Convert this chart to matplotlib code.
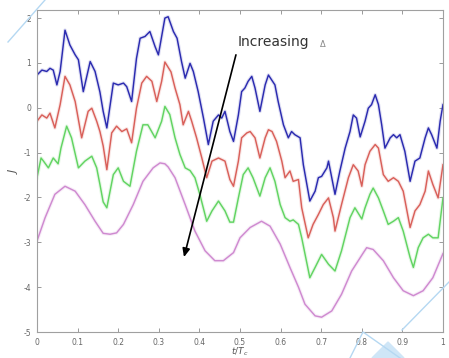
import matplotlib
matplotlib.use("Agg")
import matplotlib.pyplot as plt
from matplotlib.lines import Line2D
from matplotlib.patches import Polygon

# Normalised time samples and J values for each delta level
x_blue = [0.000, 0.012, 0.024, 0.032, 0.040, 0.049, 0.057, 0.069, 0.081, 0.094,
          0.102, 0.114, 0.131, 0.143, 0.155, 0.163, 0.172, 0.188, 0.200, 0.213,
          0.221, 0.233, 0.245, 0.254, 0.266, 0.278, 0.291, 0.299, 0.307, 0.315,
          0.323, 0.336, 0.345, 0.356, 0.365, 0.377, 0.385, 0.397, 0.410, 0.422,
          0.434, 0.447, 0.455, 0.463, 0.475, 0.484, 0.496, 0.504, 0.512, 0.520,
          0.529, 0.537, 0.549, 0.562, 0.570, 0.578, 0.586, 0.594, 0.607, 0.619,
          0.627, 0.635, 0.648, 0.656, 0.672, 0.685, 0.693, 0.701, 0.714, 0.718,
          0.726, 0.734, 0.746, 0.759, 0.771, 0.779, 0.787, 0.796, 0.808, 0.816,
          0.824, 0.833, 0.841, 0.849, 0.857, 0.870, 0.878, 0.886, 0.894, 0.906,
          0.919, 0.931, 0.943, 0.956, 0.964, 0.972, 0.985, 0.993, 1.000]
y_blue = [0.73, 0.84, 0.81, 0.88, 0.84, 0.51, 0.81, 1.73, 1.40, 1.18,
          1.07, 0.36, 1.03, 0.81, 0.35, -0.08, -0.45, 0.55, 0.51, 0.55,
          0.47, 0.14, 1.10, 1.55, 1.59, 1.70, 1.36, 1.18, 1.59, 2.00,
          2.03, 1.70, 1.55, 1.03, 0.66, 0.99, 0.81, 0.36, -0.23, -0.82,
          -0.30, -0.16, -0.23, -0.08, -0.53, -0.75, -0.16, 0.36, 0.44, 0.59,
          0.70, 0.44, -0.08, 0.51, 0.73, 0.62, 0.51, 0.14, -0.38, -0.67,
          -0.53, -0.60, -0.67, -1.27, -2.08, -1.86, -1.56, -1.53, -1.34, -1.19,
          -1.56, -1.93, -1.41, -0.90, -0.53, -0.16, -0.23, -0.65, -0.30, -0.01,
          0.07, 0.29, 0.07, -0.38, -0.90, -0.67, -0.60, -0.67, -0.60, -0.97,
          -1.64, -1.19, -1.12, -0.67, -0.45, -0.60, -0.90, -0.30, 0.07]

x_red = [0.000, 0.012, 0.024, 0.032, 0.044, 0.057, 0.069, 0.081, 0.094, 0.110,
         0.126, 0.135, 0.147, 0.155, 0.163, 0.172, 0.184, 0.196, 0.209, 0.221,
         0.233, 0.245, 0.258, 0.270, 0.283, 0.295, 0.307, 0.315, 0.330, 0.340,
         0.352, 0.360, 0.373, 0.381, 0.393, 0.406, 0.418, 0.431, 0.447, 0.463,
         0.475, 0.484, 0.496, 0.504, 0.517, 0.525, 0.537, 0.549, 0.562, 0.570,
         0.579, 0.590, 0.603, 0.611, 0.623, 0.631, 0.644, 0.652, 0.668, 0.680,
         0.693, 0.705, 0.718, 0.730, 0.734, 0.750, 0.767, 0.779, 0.791, 0.800,
         0.808, 0.820, 0.833, 0.841, 0.853, 0.865, 0.878, 0.890, 0.902, 0.919,
         0.931, 0.943, 0.956, 0.964, 0.975, 0.988, 1.000]
y_red = [-0.30, -0.16, -0.23, -0.12, -0.45, 0.07, 0.70, 0.51, 0.14, -0.67,
         -0.08, -0.01, -0.30, -0.53, -0.85, -1.38, -0.56, -0.41, -0.53, -0.47,
         -0.78, -0.01, 0.55, 0.70, 0.59, 0.14, 0.59, 1.02, 0.80, 0.44,
         0.07, -0.38, -0.08, -0.30, -0.67, -1.12, -1.56, -1.19, -1.12, -1.19,
         -1.60, -1.75, -1.19, -0.67, -0.56, -0.53, -0.67, -1.12, -0.67, -0.49,
         -0.53, -0.75, -1.19, -1.56, -1.41, -1.64, -1.60, -2.23, -2.90, -2.60,
         -2.38, -2.16, -2.01, -2.45, -2.75, -2.16, -1.56, -1.27, -1.41, -1.75,
         -1.27, -0.97, -0.82, -0.90, -1.49, -1.64, -1.56, -1.64, -1.86, -2.67,
         -2.30, -2.16, -1.86, -1.41, -1.71, -2.01, -1.27]

x_green = [0.000, 0.010, 0.016, 0.028, 0.040, 0.052, 0.059, 0.073, 0.085, 0.102,
           0.118, 0.135, 0.147, 0.155, 0.163, 0.172, 0.188, 0.200, 0.213, 0.229,
           0.245, 0.261, 0.273, 0.291, 0.307, 0.315, 0.327, 0.340, 0.352, 0.365,
           0.377, 0.389, 0.401, 0.418, 0.431, 0.447, 0.463, 0.475, 0.484, 0.496,
           0.508, 0.520, 0.532, 0.549, 0.562, 0.574, 0.586, 0.599, 0.611, 0.623,
           0.631, 0.644, 0.652, 0.672, 0.685, 0.701, 0.718, 0.734, 0.750, 0.771,
           0.783, 0.800, 0.808, 0.820, 0.828, 0.841, 0.853, 0.865, 0.878, 0.890,
           0.902, 0.919, 0.927, 0.939, 0.951, 0.964, 0.975, 0.988, 1.000]
y_green = [-1.56, -1.12, -1.19, -1.34, -1.12, -1.25, -0.90, -0.41, -0.67, -1.34,
           -1.19, -1.08, -1.34, -1.71, -2.10, -2.23, -1.49, -1.34, -1.64, -1.75,
           -0.97, -0.38, -0.38, -0.67, -0.30, 0.03, -0.15, -0.67, -1.04, -1.34,
           -1.40, -1.56, -1.93, -2.53, -2.30, -2.08, -2.30, -2.55, -2.55, -2.01,
           -1.49, -1.34, -1.56, -1.97, -1.56, -1.34, -1.64, -2.16, -2.45, -2.53,
           -2.50, -2.60, -2.90, -3.79, -3.56, -3.27, -3.49, -3.64, -3.19, -2.45,
           -2.23, -2.48, -2.23, -1.93, -1.79, -2.01, -2.30, -2.60, -2.53, -2.45,
           -2.75, -3.34, -3.56, -3.12, -2.90, -2.82, -2.90, -2.90, -2.01]

x_mag = [0.000, 0.020, 0.044, 0.069, 0.094, 0.118, 0.143, 0.163, 0.180, 0.196,
         0.213, 0.237, 0.261, 0.286, 0.303, 0.315, 0.323, 0.340, 0.365, 0.389,
         0.414, 0.438, 0.459, 0.484, 0.500, 0.525, 0.553, 0.574, 0.599, 0.623,
         0.644, 0.660, 0.685, 0.701, 0.726, 0.750, 0.775, 0.804, 0.812, 0.828,
         0.853, 0.878, 0.902, 0.927, 0.951, 0.975, 1.000]
y_mag = [-2.97, -2.45, -1.93, -1.75, -1.86, -2.16, -2.53, -2.80, -2.82, -2.79,
         -2.60, -2.16, -1.64, -1.34, -1.23, -1.25, -1.32, -1.56, -2.16, -2.75,
         -3.19, -3.41, -3.41, -3.23, -2.90, -2.67, -2.53, -2.64, -3.04, -3.56,
         -4.00, -4.38, -4.64, -4.67, -4.53, -4.16, -3.64, -3.23, -3.12, -3.16,
         -3.41, -3.79, -4.08, -4.19, -4.08, -3.79, -3.25]

x_ticks = [0, 0.1, 0.2, 0.3, 0.4, 0.5, 0.6, 0.7, 0.8, 0.9, 1]
x_tick_labels = ["0", "0.1", "0.2", "0.3", "0.4", "0.5", "0.6", "0.7", "0.8", "0.9", "1"]
y_ticks = [-5, -4, -3, -2, -1, 0, 1, 2]
y_tick_labels = ["-5", "-4", "-3", "-2", "-1", "0", "1", "2"]

W, H = 449, 358
fig = plt.figure(figsize=(W / 100, H / 100), dpi=100)
ax = fig.add_axes([37 / W, 1 - 332 / H, 406 / W, 322 / H])

series = [
    (x_blue, y_blue, "#2b2bb0"),
    (x_red, y_red, "#d9605a"),
    (x_green, y_green, "#62d462"),
    (x_mag, y_mag, "#cf8ad0"),
]
for xs, ys, col in series:
    ax.plot(xs, ys, color=col, lw=2.6, alpha=0.15, solid_joinstyle="round")
    ax.plot(xs, ys, color=col, lw=1.05, solid_joinstyle="round")

ax.set_xlim(0, 1)
ax.set_ylim(-5, 2.18)
ax.set_xticks(x_ticks)
ax.set_xticklabels(x_tick_labels)
ax.set_yticks(y_ticks)
ax.set_yticklabels(y_tick_labels)
ax.tick_params(direction="in", length=3, width=0.6, colors="#8a8a8a",
               labelcolor="#666666", labelsize=5.5, top=True, right=True, pad=4)
for sp in ax.spines.values():
    sp.set_color("#a0a0a0")
    sp.set_linewidth(0.8)

ax.set_xlabel(r"$t/T_c$", fontsize=6.5, color="#555555", labelpad=-1)
ax.set_ylabel(r"$J$", fontsize=8, color="#555555", labelpad=3)

ax.text(0.495, 1.47, "Increasing", fontsize=10, color="#333333",
        family="DejaVu Sans", va="center", ha="left")
ax.text(0.697, 1.42, "\u0394", fontsize=6, color="#888888",
        family="DejaVu Sans", va="center", ha="left")
ax.annotate("", xy=(0.362, -3.33), xytext=(0.49, 1.18),
            arrowprops=dict(arrowstyle="-|>,head_length=0.5,head_width=0.22",
                            color="black", lw=1.2, shrinkA=0, shrinkB=0))

# faint decorative strokes around the border
wm = "#b5d8f2"
def fig_line(px, py, lw=1.0):
    fig.add_artist(Line2D([p / W for p in px], [1 - q / H for q in py],
                          color=wm, lw=lw, transform=fig.transFigure))

fig_line([8, 45], [42, 0])
fig_line([350, 363, 400], [358, 332, 358])
fig_line([402, 449], [330, 282])
fig.add_artist(Polygon([[372 / W, 0], [388 / W, 1 - 342 / H], [404 / W, 0]],
                       closed=True, color="#cfe6f7", transform=fig.transFigure))

fig.savefig("out.png", dpi=100)
